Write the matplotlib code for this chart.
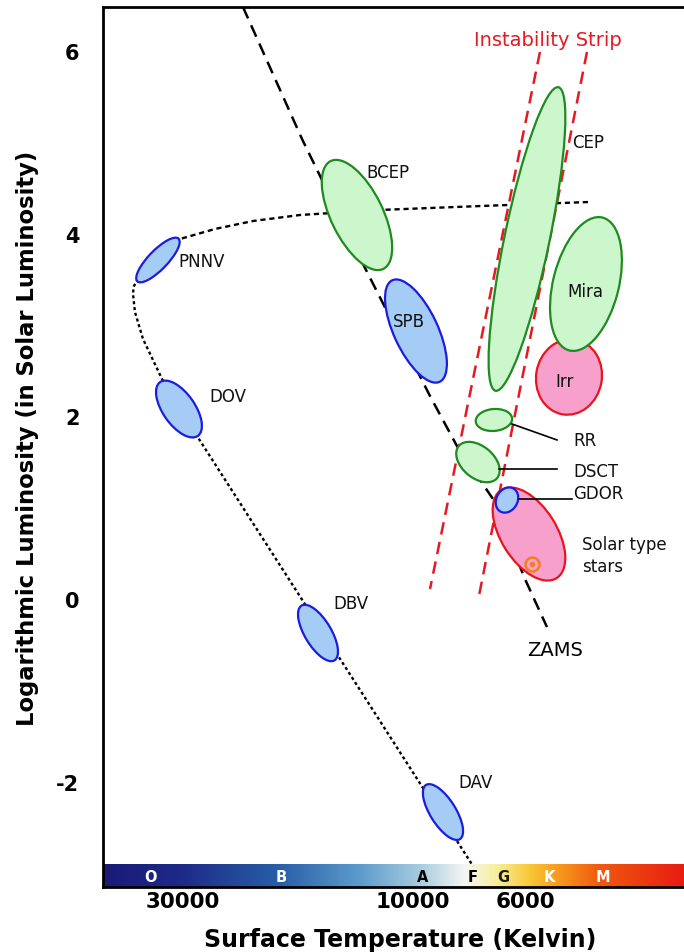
import numpy as np
import matplotlib.pyplot as plt
from matplotlib.patches import Ellipse
from matplotlib.colors import LinearSegmentedColormap

# x is a plotting coordinate across the diagram (hot on the left), y is log L/Lsun
# zero-age main sequence (dashed)
zams_x = [1.533, 2.180, 2.837, 3.582, 3.877, 4.272, 4.622, 4.863]
zams_y = [6.484, 5.038, 3.691, 2.223, 1.676, 1.095, 0.219, -0.307]

# post-AGB track down to PNNV (short dashes)
agb_x = [5.312, 4.129, 3.034, 2.158, 1.643, 1.227, 0.843, 0.602]
agb_y = [4.348, 4.304, 4.261, 4.206, 4.140, 4.053, 3.943, 3.746]

# white dwarf cooling track (dots)
wd_x = [0.602, 0.383, 0.335, 0.329, 0.350, 0.438, 0.657, 1.030, 4.053]
wd_y = [3.746, 3.505, 3.420, 3.341, 3.143, 2.848, 2.388, 1.785, -2.924]

# instability strip edges
strip_left_x = [4.786, 3.582]
strip_left_y = [5.991, 0.110]
strip_right_x = [5.301, 4.107]
strip_right_y = [5.991, -0.022]

# pulsator regions
names = ['PNNV', 'DOV', 'BCEP', 'SPB', 'CEP', 'Irr', 'Mira', 'RR', 'DSCT',
         'Solar', 'GDOR', 'DBV', 'DAV']
cx = [0.602, 0.832, 2.782, 3.428, 4.644, 5.104, 5.290, 4.282, 4.107,
      4.666, 4.425, 2.355, 3.724]
cy = [3.713, 2.081, 4.206, 2.935, 3.943, 2.432, 3.450, 1.961, 1.500,
      0.712, 1.084, -0.372, -2.333]
widths = [0.65, 0.72, 1.314, 1.227, 3.395, 0.83, 1.50, 0.40, 0.548,
          1.14, 0.29, 0.70, 0.70]
heights = [0.21, 0.35, 0.570, 0.482, 0.493, 0.72, 0.72, 0.24, 0.35,
           0.61, 0.23, 0.29, 0.28]
angles = [46, -55, -64, -65, 78.3, 80, 76, 5, -40, -58, 60, -59, -58]
kinds = ['blue', 'blue', 'green', 'blue', 'green', 'pink', 'green', 'green',
         'green', 'pink', 'blue', 'blue', 'blue']

# labels
label_text = ['PNNV', 'DOV', 'BCEP', 'SPB', 'CEP', 'Mira', 'Irr', 'RR', 'DSCT',
              'GDOR', 'Solar type\nstars', 'DBV', 'DAV']
label_x = [0.821, 1.161, 2.881, 3.176, 5.137, 5.082, 4.951, 5.148, 5.148,
           5.148, 5.246, 2.519, 3.888]
label_y = [3.702, 2.223, 4.677, 3.045, 5.005, 3.373, 2.388, 1.742, 1.402,
           1.161, 0.482, -0.044, -2.004]

# leader lines for the small regions
leader_x0 = [4.480, 4.337, 4.556]
leader_y0 = [1.917, 1.424, 1.095]
leader_x1 = [4.973, 4.973, 5.137]
leader_y1 = [1.742, 1.424, 1.095]

sun_x, sun_y = 4.699, 0.383

# temperature ticks and spectral classes
temp_ticks = [0.876, 3.395, 4.622]
temp_labels = ['30000', '10000', '6000']
lum_ticks = [6, 4, 2, 0, -2]
spec_letters = ['O', 'B', 'A', 'F', 'G', 'K', 'M']
spec_x = [0.515, 1.950, 3.505, 4.053, 4.382, 4.886, 5.477]
spec_colors = ['white', 'white', 'black', 'black', '#1a1a00', 'white', 'white']
bar_stops = [0.0, 0.133, 0.305, 0.442, 0.546, 0.623, 0.675, 0.735, 0.778, 0.855, 1.0]
bar_colors = ['#1a1a78', '#1e2a88', '#2860a8', '#5c9ccc', '#a8cce0', '#f4f6f4',
              '#f8f0a0', '#f8c838', '#f8a020', '#f05a10', '#e81c10']

styles = {
    'green': ('#ccf7cc', '#1f8a1f'),
    'blue': ('#a4ccf4', '#1c1ce0'),
    'pink': ('#f7a0cc', '#e8141e'),
}

fig = plt.figure(figsize=(6.84, 9.53), dpi=100)
ax = fig.add_axes([103 / 684, 1 - 888 / 953, 581 / 684, 880 / 953])
ax.set_xlim(0, 6.364)
ax.set_ylim(-3.154, 6.484)

# spectral colour bar along the bottom
cmap = LinearSegmentedColormap.from_list('spec', list(zip(bar_stops, bar_colors)))
grad = np.linspace(0, 1, 512).reshape(1, -1)
ax.imshow(grad, cmap=cmap, aspect='auto', extent=[0, 6.364, -3.154, -2.913],
          zorder=1)
for s, sx, sc in zip(spec_letters, spec_x, spec_colors):
    ax.text(sx, -3.034, s, color=sc, fontsize=10.5, fontweight='bold',
            ha='center', va='center', zorder=2)

ax.plot(zams_x, zams_y, color='black', lw=1.8, ls=(0, (5, 3)), zorder=2)
ax.plot(agb_x, agb_y, color='black', lw=1.7, ls=(0, (2.2, 1.6)), zorder=2)
ax.plot(wd_x, wd_y, color='black', lw=1.7, ls=(0, (1.3, 1.2)), zorder=2)
ax.plot(strip_left_x, strip_left_y, color='#e41a22', lw=1.8, ls=(0, (5, 3)), zorder=2)
ax.plot(strip_right_x, strip_right_y, color='#e41a22', lw=1.8, ls=(0, (5, 3)), zorder=2)

for i in range(len(names)):
    fc, ec = styles[kinds[i]]
    ax.add_patch(Ellipse((cx[i], cy[i]), widths[i], heights[i], angle=angles[i],
                         facecolor=fc, edgecolor=ec, lw=1.6, zorder=3))

for x0, y0, x1, y1 in zip(leader_x0, leader_y0, leader_x1, leader_y1):
    ax.plot([x0, x1], [y0, y1], color='black', lw=1.2, zorder=4)

ax.plot(sun_x, sun_y, 'o', ms=10, mfc='none', mec='#f08020', mew=1.8, zorder=4)
ax.plot(sun_x, sun_y, 'o', ms=3, color='#f08020', zorder=4)

for t, lx, ly in zip(label_text, label_x, label_y):
    ax.text(lx, ly, t, fontsize=12, ha='left', va='center', color='#111111',
            linespacing=1.3, zorder=5)
ax.text(4.951, -0.548, 'ZAMS', fontsize=14, ha='center', va='center', zorder=5)
ax.text(4.874, 6.133, 'Instability Strip', fontsize=14, color='#e41a22',
        ha='center', va='center', zorder=5)

ax.set_xticks(temp_ticks)
ax.set_xticklabels(temp_labels, fontsize=15.5, fontweight='bold')
ax.set_yticks(lum_ticks)
ax.set_yticklabels([str(v) for v in lum_ticks], fontsize=15, fontweight='bold')
ax.tick_params(axis='x', length=0, pad=3)
ax.tick_params(axis='y', length=0, pad=17)
for side in ['left', 'bottom', 'top']:
    ax.spines[side].set_linewidth(2)
ax.spines['right'].set_visible(False)

fig.text(400 / 684, 1 - 940 / 953, 'Surface Temperature (Kelvin)', fontsize=17,
         fontweight='bold', ha='center', va='center')
fig.text(28 / 684, 1 - 438 / 953, 'Logarithmic Luminosity (in Solar Luminosity)',
         fontsize=16.3, fontweight='bold', rotation=90, ha='center', va='center')

fig.savefig('out.png', dpi=100)
